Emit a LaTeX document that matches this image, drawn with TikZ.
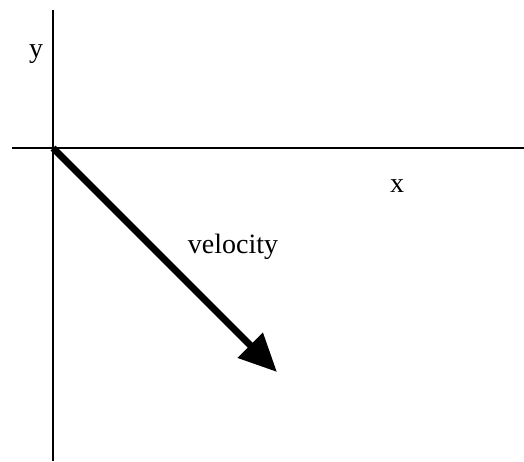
\documentclass[tikz,border=0pt]{standalone}
\usepackage{fontspec}
\setmainfont{Liberation Serif}
\usetikzlibrary{arrows.meta}

\begin{document}
\begin{tikzpicture}[
  x=1pt, y=-1pt,
  axis/.style={line width=2pt, black},
  vector/.style={line width=7pt, -{Triangle[length=38pt, width=34pt]}},
  label/.style={font=\fontsize{28}{32}\selectfont, inner sep=0pt}
]
\useasboundingbox (0,0) rectangle (524,461);

% Axes.
\coordinate (origin) at (53,148);
\coordinate (ytop) at (53,10);
\coordinate (ybot) at (53,461);
\coordinate (xleft) at (12,148);
\coordinate (xright) at (524,148);
\draw[axis] (ybot) -- (ytop);
\draw[axis] (xleft) -- (xright);

\node[label] (ylabel) at (36,54) {y};
\node[label] (xlabel) at (397,186) {x};

% Velocity vector.
\coordinate (tip) at (277,372);
\draw[vector] (origin) -- (tip);
\node[label] (vlabel) at (233,247) {velocity};

\end{tikzpicture}
\end{document}
